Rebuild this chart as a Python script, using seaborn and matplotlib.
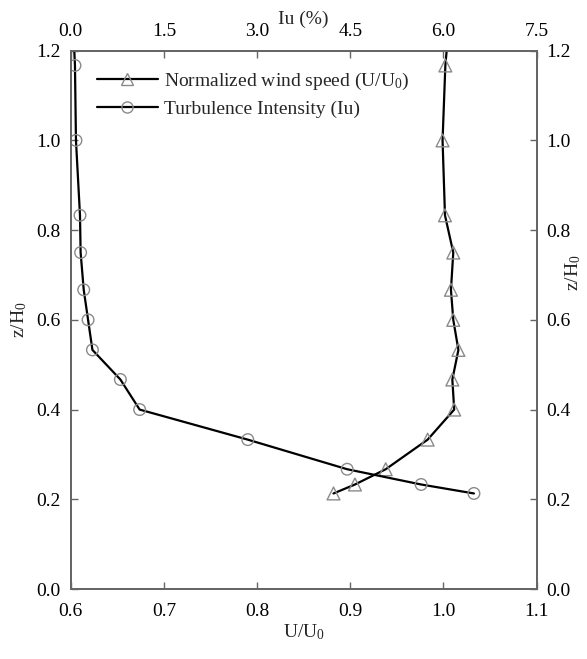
import matplotlib
matplotlib.use("Agg")
import matplotlib.pyplot as plt
import seaborn as sns
from matplotlib.lines import Line2D

# ---- data ----
z_pts = [1.167, 1.0, 0.833, 0.75, 0.667, 0.6, 0.533, 0.467, 0.4, 0.333, 0.267, 0.233, 0.213]
U_pts = [1.002, 0.999, 1.0016, 1.0105, 1.008, 1.0105, 1.016, 1.0095, 1.0115, 0.983, 0.938, 0.905, 0.882]
Iu_pts = [0.069, 0.085, 0.15, 0.16, 0.21, 0.28, 0.35, 0.80, 1.11, 2.85, 4.45, 5.64, 6.49]

z_line = [1.2] + z_pts
U_line = [1.0034] + U_pts
Iu_line = [0.058] + Iu_pts

x_ticks = [0.6, 0.7, 0.8, 0.9, 1.0, 1.1]
iu_ticks = [0.0, 1.5, 3.0, 4.5, 6.0, 7.5]
y_ticks = [0.0, 0.2, 0.4, 0.6, 0.8, 1.0, 1.2]
labels = ["Normalized wind speed (U/U$_0$)", "Turbulence Intensity (Iu)"]

sns.set_theme(style="white")
plt.rcParams["font.family"] = ["Liberation Serif", "DejaVu Serif"]
plt.rcParams["mathtext.fontset"] = "custom"
plt.rcParams["mathtext.rm"] = "Liberation Serif"
plt.rcParams["mathtext.it"] = "Liberation Serif:italic"

FS = 14
SP = "#666666"
MK = "#8a8a8a"
LW = 1.6

fig = plt.figure(figsize=(5.87, 6.59), dpi=100)
ax = fig.add_axes([0.1204, 0.1062, 0.7939, 0.8169])
ax2 = ax.twiny()
ax3 = ax.twinx()

# U/U0 on bottom axis
sns.lineplot(x=U_line, y=z_line, sort=False, estimator=None, ax=ax, color="black", lw=LW)
sns.scatterplot(x=U_pts, y=z_pts, ax=ax, marker="^", s=85, facecolor="none",
                edgecolor=MK, linewidth=1.0, zorder=3)
# Iu on top axis
sns.lineplot(x=Iu_line, y=z_line, sort=False, estimator=None, ax=ax2, color="black", lw=LW)
sns.scatterplot(x=Iu_pts, y=z_pts, ax=ax2, marker="o", s=70, facecolor="none",
                edgecolor=MK, linewidth=1.0, zorder=3)

ax.set_xlim(0.6, 1.1)
ax2.set_xlim(0.0, 7.5)
for a in (ax, ax2, ax3):
    a.set_ylim(0.0, 1.2)

ax.set_xticks(x_ticks)
ax.set_xticklabels([f"{v:.1f}" for v in x_ticks])
ax2.set_xticks(iu_ticks)
ax2.set_xticklabels([f"{v:.1f}" for v in iu_ticks])
ax.set_yticks(y_ticks)
ax.set_yticklabels([f"{v:.1f}" for v in y_ticks])
ax3.set_yticks(y_ticks)
ax3.set_yticklabels([f"{v:.1f}" for v in y_ticks])

for a in (ax, ax2, ax3):
    a.tick_params(direction="in", length=5, width=1.0, color=SP, labelsize=FS,
                  labelcolor="black")
    for s in a.spines.values():
        s.set_color(SP)
        s.set_linewidth(1.2)
ax.tick_params(axis="x", pad=10)
ax.tick_params(axis="y", pad=7)
ax2.tick_params(axis="x", pad=8)
ax3.tick_params(axis="y", pad=7)

ax.set_xlabel("U/U$_0$", fontsize=FS, labelpad=2)
ax2.set_xlabel("Iu (%)", fontsize=FS, labelpad=-1)
ax.set_ylabel("z/H$_0$", fontsize=FS)
ax.yaxis.set_label_coords(-0.09, 0.5)
ax3.set_ylabel("z/H$_0$", fontsize=FS, rotation=90)
ax3.yaxis.set_label_coords(1.058, 0.587)

handles = [
    Line2D([0], [0], color="black", lw=LW, marker="^", ms=9, mfc="none", mec=MK, mew=1.0),
    Line2D([0], [0], color="black", lw=LW, marker="o", ms=8, mfc="none", mec=MK, mew=1.0),
]
ax3.legend(handles, labels, loc="upper left", bbox_to_anchor=(0.056, 0.962), frameon=False,
           fontsize=FS, handlelength=3.15, handletextpad=0.3, labelspacing=0.4,
           borderpad=0, borderaxespad=0, numpoints=1)

fig.savefig("out.png", dpi=100)
